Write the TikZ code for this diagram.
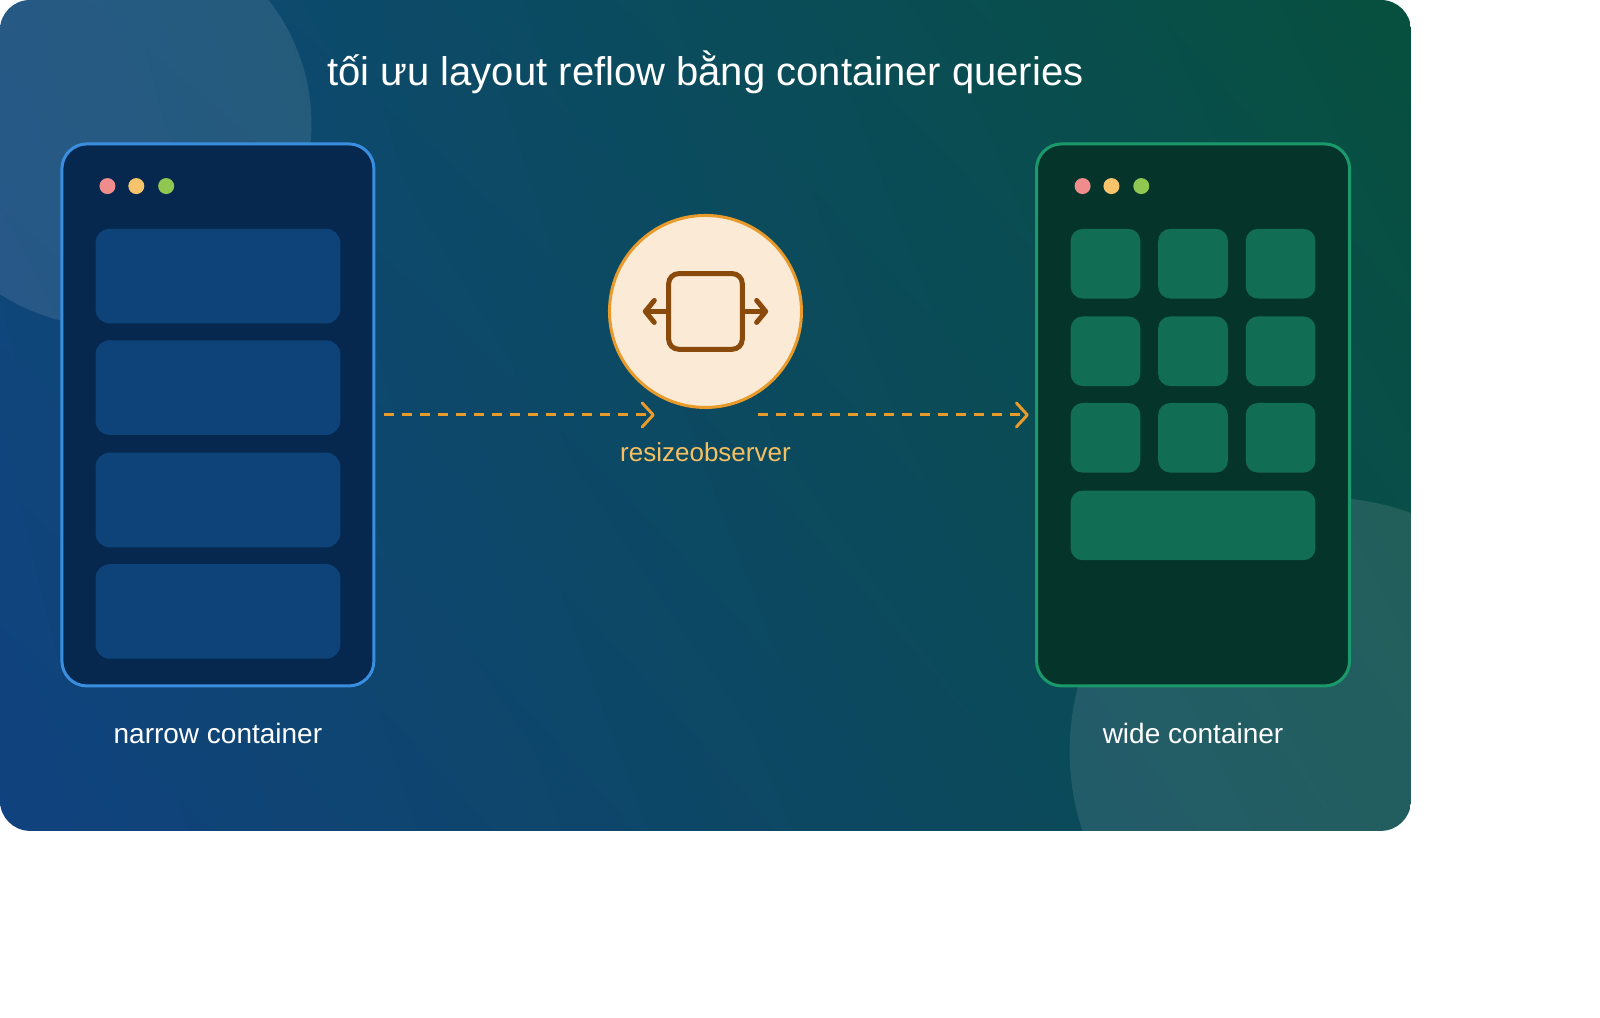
\documentclass[tikz,border=0pt]{standalone}
\usepackage{fontspec}
\setmainfont{Liberation Sans}
\usetikzlibrary{arrows.meta,shadings}
\definecolor{cLL}{HTML}{10427F}
\definecolor{cUL}{HTML}{0E4878}
\definecolor{cLR}{HTML}{0A4C4E}
\definecolor{cUR}{HTML}{07503E}
\definecolor{nfill}{HTML}{06284F}
\definecolor{nline}{HTML}{3A8EE0}
\definecolor{nblk}{HTML}{0D4379}
\definecolor{wfill}{HTML}{05342B}
\definecolor{wline}{HTML}{1A9A6A}
\definecolor{wblk}{HTML}{116D54}
\definecolor{dR}{HTML}{F08C8C}
\definecolor{dY}{HTML}{F7C46C}
\definecolor{dG}{HTML}{8FC750}
\definecolor{ocirc}{HTML}{FBEBD6}
\definecolor{oline}{HTML}{E89A2A}
\definecolor{brown}{HTML}{8A4A0C}
\definecolor{lbl}{HTML}{F5C062}
\begin{document}
\begin{tikzpicture}[x=0.995pt,y=-0.995pt,
  nb/.style={fill=nblk,rounded corners=14pt},
  wb/.style={fill=wblk,rounded corners=12pt},
  dot/.style={circle,inner sep=0pt,minimum size=16pt},
  flow/.style={draw=oline,line width=3pt,dash pattern=on 10pt off 8pt,-{Straight Barb[length=11pt,width=24pt,line width=3pt,line cap=round,line join=round]}},
  txt/.style={text=white,font=\fontsize{28}{32}\selectfont}]
\useasboundingbox (0,0) rectangle (1608,1023);
\fill[white] (0,0) rectangle (1608,1023);
\begin{scope}
\clip[rounded corners=30pt] (0,0) rectangle (1418,835);
\shade[lower left=cLL,upper left=cUL,lower right=cLR,upper right=cUR] (0,835) rectangle (1418,0);
\fill[white,opacity=0.1] (110,125) circle (203);
\fill[white,opacity=0.1] (1330,755) circle (255);
\end{scope}
\node[txt,font=\fontsize{40}{46}\selectfont] (title) at (709,73) {tối ưu layout reflow bằng container queries};
\node[draw=nline,line width=3pt,fill=nfill,rounded corners=25pt,minimum width=312pt,minimum height=542pt] (narrow) at (219,417) {};
\node[dot,fill=dR] (n1) at (108,187) {};
\node[dot,fill=dY] (n2) at (137,187) {};
\node[dot,fill=dG] (n3) at (167,187) {};
\foreach \y in {230,342,455,567} \fill[nb] (96,\y) rectangle (342,\y+95);
\node[txt] (nl) at (219,737) {narrow container};
\node[draw=wline,line width=3pt,fill=wfill,rounded corners=25pt,minimum width=313pt,minimum height=542pt] (wide) at (1199,417) {};
\node[dot,fill=dR] (w1) at (1088,187) {};
\node[dot,fill=dY] (w2) at (1117,187) {};
\node[dot,fill=dG] (w3) at (1147,187) {};
\foreach \x in {1076,1164,1252} \foreach \y in {230,318,405} \fill[wb] (\x,\y) rectangle (\x+70,\y+70);
\fill[wb] (1076,493) rectangle (1322,563);
\node[txt] (wl) at (1199,737) {wide container};
\node[circle,draw=oline,line width=3pt,fill=ocirc,minimum size=192pt] (obs) at (709,313) {};
\draw[brown,line width=5pt,rounded corners=10pt] (672,275) rectangle (746,351);
\draw[brown,line width=5pt,-{Straight Barb[length=9pt,width=22pt,line width=5pt,line cap=round,line join=round]}] (672,313) -- (646,313);
\draw[brown,line width=5pt,-{Straight Barb[length=9pt,width=22pt,line width=5pt,line cap=round,line join=round]}] (746,313) -- (772,313);
\coordinate (a1) at (386,417); \coordinate (a2) at (658,417);
\coordinate (b1) at (762,417); \coordinate (b2) at (1034,417);
\draw[flow] (a1) -- (a2);
\draw[flow] (b1) -- (b2);
\node[text=lbl,font=\fontsize{26}{30}\selectfont] (ol) at (709,454) {resizeobserver};
\end{tikzpicture}
\end{document}
